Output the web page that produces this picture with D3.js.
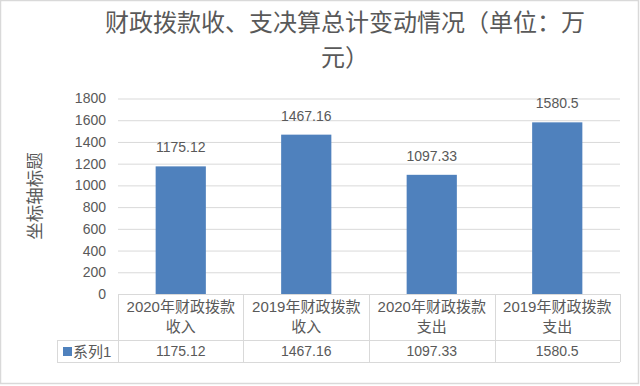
<!DOCTYPE html>
<html lang="zh">
<head>
  <meta charset="UTF-8">
  <title>财政拨款收、支决算总计变动情况</title>
  <script src="https://d3js.org/d3.v7.min.js"></script>
  <style>
    body {
      margin: 0;
      padding: 0;
      background: #fff;
    }
    svg text {
      fill: #595959;
      font-family: "Liberation Sans", "Noto Sans CJK SC", sans-serif;
    }
    .grid line {
      stroke: #d9d9d9;
      stroke-width: 1;
    }
    .tbl {
      stroke: #d9d9d9;
      stroke-width: 1;
      fill: none;
    }
  </style>
</head>
<body>
  <svg id="chart" width="640" height="386"></svg>

  <script>
    // data
    const categories = ["2020年财政拨款收入", "2019年财政拨款收入", "2020年财政拨款支出", "2019年财政拨款支出"];
    const values = [1175.12, 1467.16, 1097.33, 1580.5];
    const valueLabels = ["1175.12", "1467.16", "1097.33", "1580.5"];
    const yTicks = [0, 200, 400, 600, 800, 1000, 1200, 1400, 1600, 1800];
    const seriesName = "系列1";
    const titleLines = ["财政拨款收、支决算总计变动情况（单位：万", "元）"];
    const yTitle = "坐标轴标题";

    const barColor = "#4f81bd";
    const svg = d3.select("#chart");

    // outer border
    svg.append("rect")
      .attr("x", 0.5).attr("y", 0.5)
      .attr("width", 638).attr("height", 383)
      .attr("fill", "#fff")
      .attr("stroke", "#d9d9d9")
      .attr("stroke-width", 1.5);

    const plotLeft = 118, plotRight = 620, plotTop = 98.5, plotBottom = 294;

    const x = d3.scaleBand()
      .domain(categories)
      .range([plotLeft, plotRight])
      .paddingInner(0.6)
      .paddingOuter(0.3);

    const y = d3.scaleLinear()
      .domain([0, 1800])
      .range([plotBottom, plotTop]);

    // gridlines
    svg.append("g")
      .attr("class", "grid")
      .attr("transform", `translate(${plotLeft},0)`)
      .call(d3.axisLeft(y).tickValues(yTicks.slice(1)).tickSize(-(plotRight - plotLeft)).tickFormat(""))
      .call(g => g.select(".domain").remove());

    // y axis labels
    svg.append("g")
      .attr("transform", `translate(${plotLeft},0)`)
      .call(d3.axisLeft(y).tickValues(yTicks).tickSize(0).tickPadding(12).tickFormat(d3.format("d")))
      .call(g => g.select(".domain").remove())
      .selectAll("text")
      .style("font-size", "14px")
      .style("font-family", "'Liberation Sans', sans-serif")
      .style("fill", "#595959");

    // bars
    svg.selectAll(".bar")
      .data(values)
      .enter().append("rect")
      .attr("class", "bar")
      .attr("x", (d, i) => x(categories[i]))
      .attr("y", d => y(d))
      .attr("width", x.bandwidth())
      .attr("height", d => y(0) - y(d))
      .attr("fill", barColor);

    // data labels
    svg.selectAll(".dlabel")
      .data(values)
      .enter().append("text")
      .attr("class", "dlabel")
      .attr("x", (d, i) => x(categories[i]) + x.bandwidth() / 2)
      .attr("y", d => y(d) - 14)
      .attr("text-anchor", "middle")
      .style("font-size", "14px")
      .text((d, i) => valueLabels[i]);

    // data table
    const step = x.step();
    const colEdges = categories.map(c => x(c) - step * x.paddingInner() / 2);
    colEdges[0] = plotLeft;
    colEdges.push(plotRight);
    const rowTop = plotBottom, rowMid = 340, rowBot = 362, legendLeft = 57;

    const tbl = svg.append("g");
    tbl.append("line").attr("class", "tbl")
      .attr("x1", plotLeft).attr("x2", plotRight).attr("y1", rowTop + 0.5).attr("y2", rowTop + 0.5);
    tbl.append("line").attr("class", "tbl")
      .attr("x1", legendLeft).attr("x2", plotRight).attr("y1", rowMid + 0.5).attr("y2", rowMid + 0.5);
    tbl.append("line").attr("class", "tbl")
      .attr("x1", legendLeft).attr("x2", plotRight).attr("y1", rowBot + 0.5).attr("y2", rowBot + 0.5);
    tbl.selectAll(".vline")
      .data(colEdges)
      .enter().append("line")
      .attr("class", "tbl")
      .attr("x1", d => Math.round(d) + 0.5).attr("x2", d => Math.round(d) + 0.5)
      .attr("y1", rowTop).attr("y2", rowBot);
    tbl.append("line").attr("class", "tbl")
      .attr("x1", legendLeft + 0.5).attr("x2", legendLeft + 0.5).attr("y1", rowMid).attr("y2", rowBot);

    // category headers (two lines)
    const headers = svg.selectAll(".hdr")
      .data(categories)
      .enter().append("text")
      .attr("class", "hdr")
      .attr("text-anchor", "middle")
      .style("font-size", "15px");
    headers.append("tspan")
      .attr("x", d => x(d) + x.bandwidth() / 2)
      .attr("y", 312)
      .text(d => d.slice(0, d.indexOf("拨款") + 2));
    headers.append("tspan")
      .attr("x", d => x(d) + x.bandwidth() / 2)
      .attr("y", 332)
      .text(d => d.slice(d.indexOf("拨款") + 2));

    // values row
    svg.selectAll(".cellv")
      .data(values)
      .enter().append("text")
      .attr("class", "cellv")
      .attr("x", (d, i) => x(categories[i]) + x.bandwidth() / 2)
      .attr("y", 356)
      .attr("text-anchor", "middle")
      .style("font-size", "14px")
      .text((d, i) => valueLabels[i]);

    // legend key
    svg.append("rect")
      .attr("x", 63).attr("y", 347)
      .attr("width", 9).attr("height", 9)
      .attr("fill", barColor);
    svg.append("text")
      .attr("x", 73).attr("y", 357)
      .style("font-size", "15px")
      .text(seriesName);

    // title, one text per wrapped line
    svg.selectAll(".title")
      .data(titleLines)
      .enter().append("text")
      .attr("class", "title")
      .attr("x", 345)
      .attr("y", (d, i) => 30.5 + i * 35)
      .attr("text-anchor", "middle")
      .style("font-size", "24px")
      .style("font-family", "'Noto Sans CJK SC', sans-serif")
      .text(d => d);

    // y axis title
    svg.append("text")
      .attr("transform", "translate(33,196) rotate(-90)")
      .attr("text-anchor", "middle")
      .attr("dominant-baseline", "central")
      .style("font-size", "17.5px")
      .style("font-family", "'Noto Sans CJK SC', sans-serif")
      .text(yTitle);
  </script>
</body>
</html>
